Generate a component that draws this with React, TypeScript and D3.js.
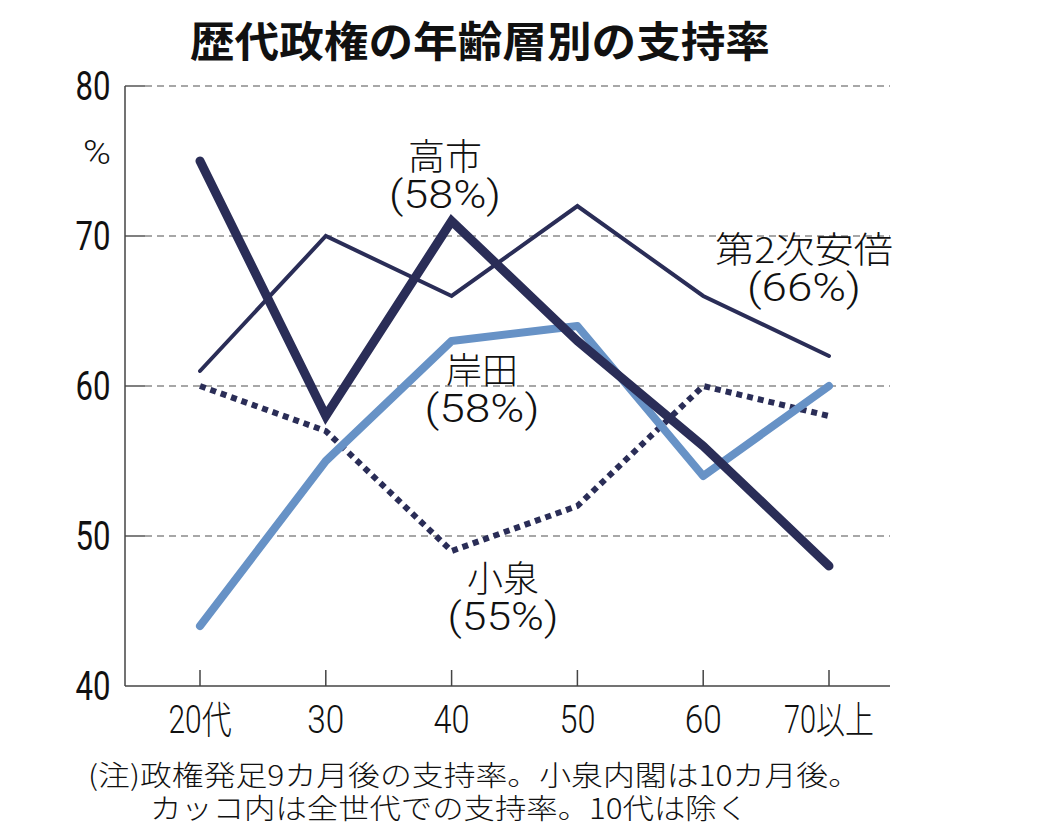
import React from 'react'
import * as d3 from 'd3'

const ages = ['20代', '30', '40', '50', '60', '70以上']
const yTicks = [40, 50, 60, 70, 80]

const takaichi = [75, 58, 71, 63, 56, 48]
const abe2 = [61, 70, 66, 72, 66, 62]
const kishida = [44, 55, 63, 64, 54, 60]
const koizumi = [60, 57, 49, 52, 60, 58]

const title = '歴代政権の年齢層別の支持率'
const notes = [
  '(注)政権発足9カ月後の支持率。小泉内閣は10カ月後。',
  'カッコ内は全世代での支持率。10代は除く',
]

const NAVY = '#2a2d57'
const LIGHT = '#6792c6'
const JP = '"Noto Sans CJK JP", "Noto Sans", sans-serif'
const NUM = 'Roboto, "Noto Sans CJK JP", sans-serif'

// widths the labels take in the print (condensed type)
const xLabelWidth = [63, 37, 36, 36, 37, 90]

const App: React.FC = () => {
  const width = 1056
  const height = 840
  const left = 125
  const right = 890
  const top = 86
  const bottom = 686

  const x = d3.scalePoint<string>().domain(ages).range([200, 829])
  const y = d3.scaleLinear().domain([40, 80]).range([bottom, top])

  const line = d3
    .line<number>()
    .x((d, i) => x(ages[i]) as number)
    .y(d => y(d))

  // label: name, share, x centre, y of first line, widths
  const labels = [
    { name: '高市', share: '(58%)', cx: 445, cy: 157, nw: 74, sw: 112 },
    { name: '第2次安倍', share: '(66%)', cx: 804, cy: 250, nw: 178, sw: 114 },
    { name: '岸田', share: '(58%)', cx: 482, cy: 371, nw: 72, sw: 115 },
    { name: '小泉', share: '(55%)', cx: 503, cy: 579, nw: 72, sw: 111 },
  ]

  return (
    <svg
      width={width}
      height={height}
      style={{ position: 'absolute', left: 0, top: 0, display: 'block', background: '#fff' }}
    >
      <text
        x={480}
        y={42}
        dy="0.36em"
        textAnchor="middle"
        fontFamily={JP}
        fontWeight={700}
        fontSize={42}
        fill="#111"
        textLength={580}
        lengthAdjust="spacingAndGlyphs"
      >
        {title}
      </text>

      {/* grid */}
      {yTicks
        .filter(t => t > 40)
        .map(t => (
          <g key={t}>
            <line x1={left} x2={left + 20} y1={y(t)} y2={y(t)} stroke="#555" strokeWidth={1.5} />
            <line
              x1={left + 20}
              x2={right}
              y1={y(t)}
              y2={y(t)}
              stroke="#8a8a8a"
              strokeWidth={1.4}
              strokeDasharray="7,5"
            />
          </g>
        ))}

      {/* axes */}
      <line x1={left} x2={left} y1={top} y2={bottom} stroke="#444" strokeWidth={1.5} />
      <line x1={left} x2={right} y1={bottom} y2={bottom} stroke="#444" strokeWidth={1.5} />
      {ages.map(a => (
        <line
          key={a}
          x1={x(a)}
          x2={x(a)}
          y1={bottom}
          y2={bottom - 16}
          stroke="#444"
          strokeWidth={1.5}
        />
      ))}

      {yTicks.map(t => (
        <text
          key={t}
          x={93}
          y={y(t)}
          dy="0.36em"
          textAnchor="middle"
          fontFamily={NUM}
          fontSize={40}
          fill="#111"
          textLength={35}
          lengthAdjust="spacingAndGlyphs"
        >
          {t}
        </text>
      ))}
      <text
        x={97}
        y={152}
        dy="0.36em"
        textAnchor="middle"
        fontFamily={NUM}
        fontWeight={300}
        fontSize={34}
        fill="#111"
        textLength={28}
        lengthAdjust="spacingAndGlyphs"
      >
        %
      </text>

      {ages.map((a, i) => (
        <text
          key={a}
          x={x(a)}
          y={719}
          dy="0.36em"
          textAnchor="middle"
          fontFamily={NUM}
          fontWeight={300}
          fontSize={38}
          fill="#111"
          textLength={xLabelWidth[i]}
          lengthAdjust="spacingAndGlyphs"
        >
          {a}
        </text>
      ))}

      {/* series */}
      <path
        d={line(koizumi) || ''}
        fill="none"
        stroke={NAVY}
        strokeWidth={6}
        strokeDasharray="6,5"
      />
      <path
        d={line(kishida) || ''}
        fill="none"
        stroke={LIGHT}
        strokeWidth={8}
        strokeLinejoin="round"
        strokeLinecap="round"
      />
      <path
        d={line(abe2) || ''}
        fill="none"
        stroke={NAVY}
        strokeWidth={4}
        strokeLinejoin="miter"
        strokeLinecap="round"
      />
      <path
        d={line(takaichi) || ''}
        fill="none"
        stroke={NAVY}
        strokeWidth={9}
        strokeLinejoin="miter"
        strokeLinecap="round"
      />

      {labels.map(l => (
        <text
          key={l.name}
          fill="#111"
          textAnchor="middle"
          fontWeight={300}
        >
          <tspan
            x={l.cx}
            y={l.cy}
            dy="0.36em"
            fontFamily={JP}
            fontSize={36}
            textLength={l.nw}
            lengthAdjust="spacingAndGlyphs"
          >
            {l.name}
          </tspan>
          <tspan
            x={l.cx}
            y={l.cy + 37}
            dy="0.36em"
            fontFamily={NUM}
            fontSize={38}
            textLength={l.sw}
            lengthAdjust="spacingAndGlyphs"
          >
            {l.share}
          </tspan>
        </text>
      ))}

      <text fontFamily={JP} fontWeight={300} fontSize={28} fill="#111">
        {notes.map((n, i) => (
          <tspan
            key={i}
            x={i === 0 ? 88 : 150}
            y={776 + i * 33}
            dy="0.36em"
            textLength={i === 0 ? 772 : 598}
            lengthAdjust="spacingAndGlyphs"
          >
            {n}
          </tspan>
        ))}
      </text>
    </svg>
  )
}

export default App
